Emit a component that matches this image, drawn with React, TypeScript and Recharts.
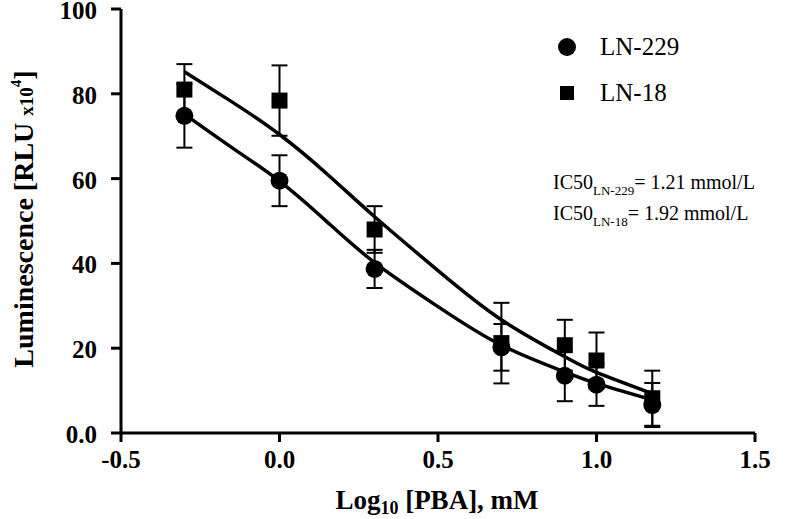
import {
  ComposedChart, Line, Scatter, ErrorBar, XAxis, YAxis, Legend,
} from 'recharts'

const INK = '#000'
const SERIF = '"Liberation Serif", "Times New Roman", serif'

// log10 of PBA concentration (mM)
const logDose = [-0.3, 0, 0.3, 0.7, 0.9, 1.0, 1.176]

// LN-229: mean luminescence and error
const ln229Mean = [74.8, 59.5, 38.7, 20.2, 13.5, 11.4, 6.6]
const ln229Err = [7.5, 6, 4.5, 5.5, 6, 5, 5.2]

// LN-18: mean luminescence and error
const ln18Mean = [81, 78.4, 48, 21.2, 20.7, 17.1, 8.2]
const ln18Err = [6, 8.3, 5.5, 9.5, 6, 6.6, 6.5]

// fitted dose-response curves
const fitX = [-0.3, -0.15, 0, 0.15, 0.3, 0.5, 0.7, 0.9, 1.0, 1.176]
const fit229 = [75.2, 67.3, 59.4, 49.8, 40.2, 29.8, 20.7, 14.4, 11.7, 7.8]
const fit18 = [85.2, 78.1, 70.4, 61.1, 51, 38.3, 26.7, 18, 14.3, 9.3]

const xTicks = [-0.5, 0, 0.5, 1.0, 1.5]
const yTicks = [0, 20, 40, 60, 80, 100]

const pts229 = logDose.map((x, i) => ({ x, y: ln229Mean[i], err: ln229Err[i] }))
const pts18 = logDose.map((x, i) => ({ x, y: ln18Mean[i], err: ln18Err[i] }))
const curve229 = fitX.map((x, i) => ({ x, y: fit229[i] }))
const curve18 = fitX.map((x, i) => ({ x, y: fit18[i] }))

const Dot = ({ cx, cy }: any) => <circle cx={cx} cy={cy} r={9} fill={INK} />
const Box = ({ cx, cy }: any) => <rect x={cx - 8} y={cy - 8} width={16} height={16} fill={INK} />

const XTick = ({ x, y, payload }: any) => (
  <text
    x={x} y={y} textAnchor="middle" dy={24}
    fontSize={25} fontWeight="bold" fontFamily={SERIF} fill={INK}
  >
    {Number(payload.value).toFixed(1)}
  </text>
)

const YTick = ({ x, y, payload }: any) => (
  <text
    x={x} y={y} textAnchor="end" dx={-12} dy={10}
    fontSize={25} fontWeight="bold" fontFamily={SERIF} fill={INK}
  >
    {payload.value === 0 ? '0.0' : payload.value}
  </text>
)

const YTitle = () => (
  <text
    transform="translate(33,219) rotate(-90)"
    textAnchor="middle"
    fontSize={28} fontWeight="bold" fontFamily={SERIF} fill={INK}
  >
    Luminescence [RLU <tspan fontSize={19}>x10</tspan>
    <tspan fontSize={15} dy={-12}>4</tspan>
    <tspan dy={12}>]</tspan>
  </text>
)

const XTitle = () => (
  <text
    x={437} y={509} textAnchor="middle"
    fontSize={27} fontWeight="bold" fontFamily={SERIF} fill={INK}
  >
    Log<tspan fontSize={18} dy={5}>10</tspan>
    <tspan dy={-5}> [PBA], mM</tspan>
  </text>
)

function LegendBox() {
  const row = { display: 'flex', alignItems: 'center', height: 46 }
  return (
    <div style={{ fontFamily: SERIF, fontSize: 25, color: INK }}>
      <div style={row}>
        <svg width={40} height={20}><circle cx={15} cy={10} r={9} fill={INK} /></svg>
        <span style={{ marginLeft: 8 }}>LN-229</span>
      </div>
      <div style={row}>
        <svg width={40} height={20}><rect x={8} y={3} width={14} height={14} fill={INK} /></svg>
        <span style={{ marginLeft: 8 }}>LN-18</span>
      </div>
    </div>
  )
}

function Ic50Note() {
  const sub = { fontSize: 13, position: 'relative' as const, top: 6 }
  return (
    <div style={{
      position: 'absolute', left: 553, top: 168, fontFamily: SERIF,
      fontSize: 20, lineHeight: '29px', color: INK, whiteSpace: 'nowrap',
    }}>
      <div>IC50<span style={sub}>LN-229</span>= 1.21 mmol/L</div>
      <div>IC50<span style={sub}>LN-18</span>= 1.92 mmol/L</div>
    </div>
  )
}

export default function App() {
  return (
    <div style={{ position: 'absolute', left: 0, top: 0, width: 788, height: 519, background: '#fff' }}>
      <ComposedChart
        width={788} height={519}
        margin={{ top: 9, right: 33, bottom: 0, left: 1 }}
      >
        <XAxis
          type="number" dataKey="x" domain={[-0.5, 1.5]} ticks={xTicks}
          allowDataOverflow
          axisLine={{ stroke: INK, strokeWidth: 3 }}
          tickLine={{ stroke: INK, strokeWidth: 3 }}
          tickSize={9} tick={<XTick />} height={86}
          label={<XTitle />}
        />
        <YAxis
          type="number" domain={[0, 100]} ticks={yTicks}
          axisLine={{ stroke: INK, strokeWidth: 3 }}
          tickLine={{ stroke: INK, strokeWidth: 3 }}
          tickSize={10} tick={<YTick />} width={120}
          label={<YTitle />}
        />
        <Legend
          layout="horizontal" verticalAlign="middle" align="center"
          wrapperStyle={{ position: 'absolute', left: 552, top: 24, width: 200 }}
          content={() => <LegendBox />}
        />
        <Line
          data={curve229} dataKey="y" type="natural" stroke={INK} strokeWidth={3.5}
          dot={false} activeDot={false} isAnimationActive={false} legendType="none"
        />
        <Line
          data={curve18} dataKey="y" type="natural" stroke={INK} strokeWidth={3.5}
          dot={false} activeDot={false} isAnimationActive={false} legendType="none"
        />
        <Scatter data={pts229} dataKey="y" name="LN-229" shape={<Dot />} isAnimationActive={false}>
          <ErrorBar dataKey="err" direction="y" width={8} stroke={INK} strokeWidth={2} isAnimationActive={false} />
        </Scatter>
        <Scatter data={pts18} dataKey="y" name="LN-18" shape={<Box />} isAnimationActive={false}>
          <ErrorBar dataKey="err" direction="y" width={8} stroke={INK} strokeWidth={2} isAnimationActive={false} />
        </Scatter>
      </ComposedChart>
      <Ic50Note />
    </div>
  )
}
